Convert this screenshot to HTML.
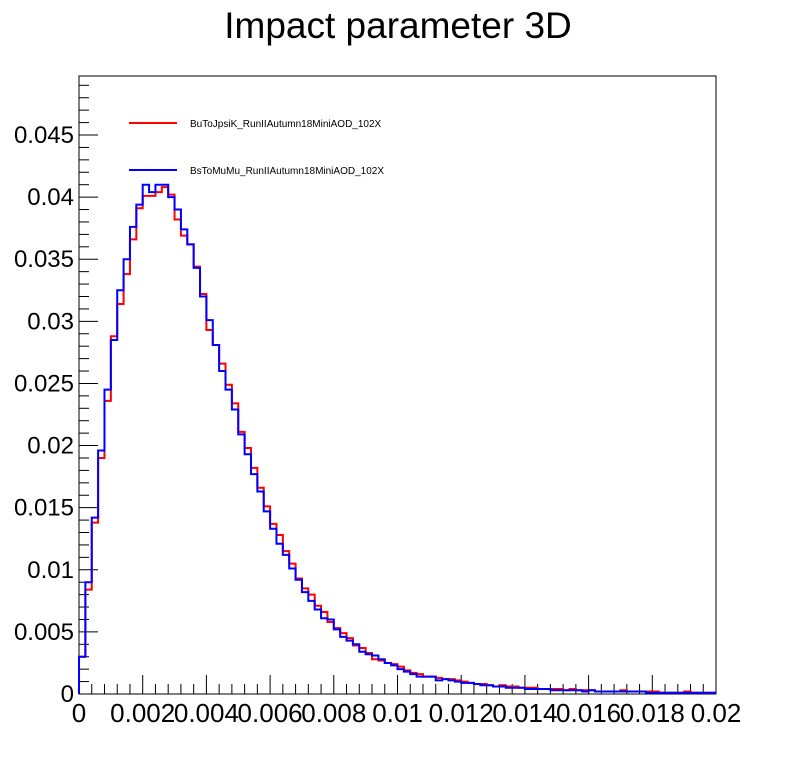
<!DOCTYPE html>
<html><head><meta charset="utf-8">
<style>
body{margin:0;background:#fff;}
svg{display:block;font-family:"Liberation Sans",Arial,sans-serif;}
</style></head>
<body>
<svg id="chart" width="796" height="772" viewBox="0 0 796 772">
<rect x="0" y="0" width="796" height="772" fill="#fff"/>
<text x="398" y="38" font-size="37" text-anchor="middle">Impact parameter 3D</text>
<rect x="79" y="76" width="637" height="618" fill="none" stroke="#000" stroke-width="1"/>
<g id="ticks"></g>
<g id="series"></g>
<g>
 <line x1="129" y1="123" x2="177" y2="123" stroke="#ff0000" stroke-width="2"/>
 <text x="190" y="127" font-size="10">BuToJpsiK_RunIIAutumn18MiniAOD_102X</text>
 <line x1="129" y1="170" x2="177" y2="170" stroke="#0000ff" stroke-width="2"/>
 <text x="190" y="174" font-size="10">BsToMuMu_RunIIAutumn18MiniAOD_102X</text>
</g>
</svg>
<script>
const xMin = 0, xMax = 0.02, yMin = 0, yMax = 0.04975;
const nBins = 100;
const yTickLabels = ["0","0.005","0.01","0.015","0.02","0.025","0.03","0.035","0.04","0.045"];
const yTickValues = [0,0.005,0.01,0.015,0.02,0.025,0.03,0.035,0.04,0.045];
const xTickLabels = ["0","0.002","0.004","0.006","0.008","0.01","0.012","0.014","0.016","0.018","0.02"];
const xTickValues = [0,0.002,0.004,0.006,0.008,0.01,0.012,0.014,0.016,0.018,0.02];
const redValues = [0.0030,0.0084,0.0138,0.0190,0.0236,0.0288,0.0314,0.0338,0.0366,0.0391,0.0401,0.0401,0.0404,0.0408,0.0402,0.0382,0.0369,0.0362,0.0344,0.0322,
0.0293,0.0281,0.0266,0.0249,0.0234,0.0211,0.0198,0.0182,0.0166,0.0151,0.0137,0.0128,0.0115,0.0105,0.0093,0.0085,0.0080,0.0071,0.0066,0.0058,
0.0053,0.0049,0.0045,0.0039,0.0037,0.0033,0.0028,0.0027,0.0025,0.0024,0.0022,0.0019,0.0017,0.0016,0.0014,0.0014,0.0013,0.0012,0.0012,0.0011,
0.0010,0.0009,0.0008,0.0008,0.0007,0.0006,0.0007,0.0006,0.0006,0.0005,0.0005,0.0005,0.0004,0.0004,0.0004,0.0004,0.0003,0.0004,0.0003,0.0003,
0.0003,0.0002,0.0002,0.0002,0.0002,0.0003,0.0002,0.0002,0.0002,0.0002,0.0002,0.0001,0.0001,0.0001,0.0001,0.0002,0.0001,0.0001,0.0001,0.0001];
const blueValues = [0.0030,0.0090,0.0142,0.0196,0.0245,0.0285,0.0325,0.0350,0.0376,0.0394,0.0410,0.0404,0.0410,0.0410,0.0400,0.0390,0.0374,0.0362,0.0343,0.0320,
0.0301,0.0281,0.0260,0.0245,0.0229,0.0209,0.0193,0.0177,0.0163,0.0147,0.0133,0.0121,0.0112,0.0101,0.0092,0.0082,0.0075,0.0068,0.0061,0.0060,
0.0052,0.0046,0.0043,0.0040,0.0034,0.0032,0.0031,0.0028,0.0025,0.0023,0.0020,0.0018,0.0016,0.0014,0.0014,0.0014,0.0011,0.0012,0.0011,0.0010,
0.0009,0.0009,0.0008,0.0007,0.0007,0.0006,0.0006,0.0005,0.0005,0.0005,0.0004,0.0004,0.0004,0.0004,0.0003,0.0003,0.0003,0.0003,0.0003,0.0002,
0.0003,0.0002,0.0002,0.0002,0.0002,0.0002,0.0002,0.0002,0.0002,0.0001,0.0001,0.0001,0.0001,0.0001,0.0001,0.0001,0.0001,0.0001,0.0001,0.0001];

const X0=79, X1=716, Y0=694, Y1=76;
function sx(v){return X0+(v-xMin)/(xMax-xMin)*(X1-X0);}
function sy(v){return Y0-(v-yMin)/(yMax-yMin)*(Y0-Y1);}
const NS='http://www.w3.org/2000/svg';
const ticks=document.getElementById('ticks');
const series=document.getElementById('series');
function mk(tag,attrs,parent){const e=document.createElementNS(NS,tag);for(const k in attrs)e.setAttribute(k,attrs[k]);parent.appendChild(e);return e;}

for(let i=0;i<=49;i++){
  const v=i*0.001; const y=sy(v); const major=(i%5===0);
  const t=mk('line',{x1:X0,x2:X0+(major?19:10),y1:y,y2:y,stroke:'#000','stroke-width':1},ticks);
  
  
}
yTickValues.forEach((v,i)=>{
  const t=mk('text',{x:X0-5,y:sy(v)+8,'font-size':24,'text-anchor':'end'},ticks);
  t.textContent=yTickLabels[i];
  
  
});
for(let i=0;i<=50;i++){
  const v=i*0.0004; const x=sx(v); const major=(i%5===0);
  const t=mk('line',{x1:x,x2:x,y1:Y0,y2:Y0-(major?19:10),stroke:'#000','stroke-width':1},ticks);
  
  
}
xTickValues.forEach((v,i)=>{
  const t=mk('text',{x:sx(v),y:722,'font-size':26,'text-anchor':'middle'},ticks);
  t.textContent=xTickLabels[i];
  
  
});
function drawHist(vals,color,name){
  const w=(xMax-xMin)/nBins;
  let d='M'+sx(xMin)+' '+sy(0);
  vals.forEach((v,i)=>{d+=' L'+sx(xMin+i*w)+' '+sy(v)+' L'+sx(xMin+(i+1)*w)+' '+sy(v);});
  const p=mk('path',{d:d,fill:'none',stroke:color,'stroke-width':2},series);
  
  
}
drawHist(redValues,'#ff0000','series-butojpsik');
drawHist(blueValues,'#0000ff','series-bstomumu');
</script>
</body></html>
